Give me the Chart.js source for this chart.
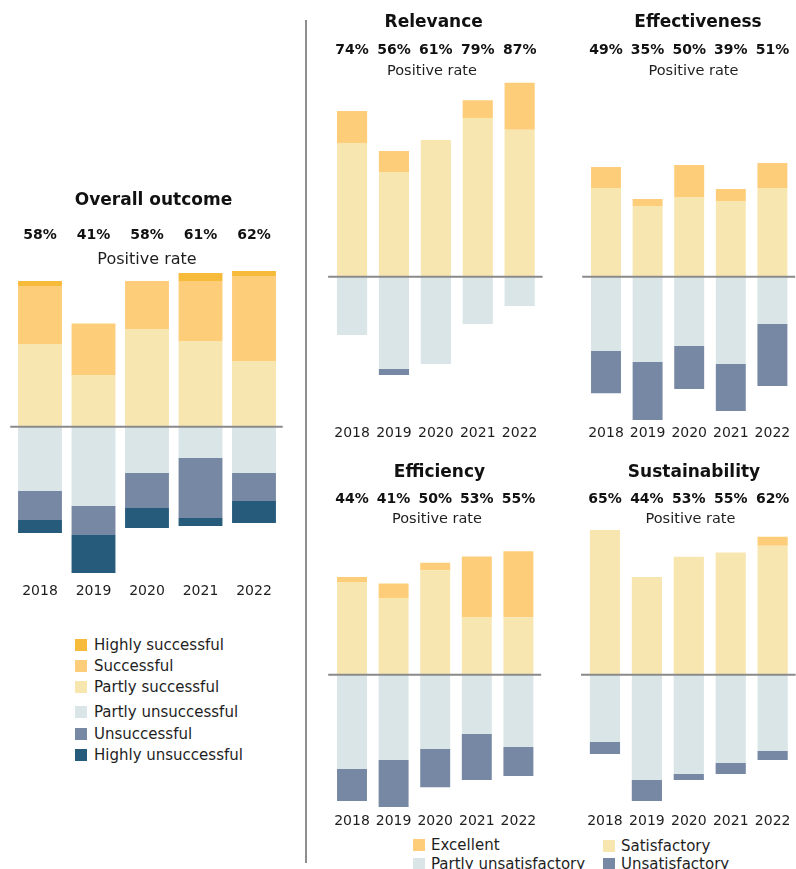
<!DOCTYPE html>
<html>
<head>
<meta charset="utf-8">
<title>Evaluation ratings 2018-2022</title>
<style>
  body { margin: 0; background: #fff; font-family: "DejaVu Sans", sans-serif; color: #1e1e1e; }
  #page { position: relative; width: 796px; height: 869px; overflow: hidden; }
  canvas { position: absolute; }
  .divider { position: absolute; left: 305px; top: 20px; width: 2px; height: 843px; background: #8e8e8e; }
  .item { position: absolute; font-size: 15px; white-space: nowrap; line-height: 18px; }
  .item span { position: absolute; left: 0; top: 0; width: 12px; height: 12px; }
</style>
</head>
<body>
<div id="page">
  <div class="divider"></div>
</div>
<script src="https://cdn.jsdelivr.net/npm/chart.js"></script>
<script>
const years = ['2018', '2019', '2020', '2021', '2022'];

// Overall outcome, share of evaluations (%)
const overallHighlySuccessful = [2.0, 0, 0, 3.2, 2.0];
const overallSuccessful = [23.0, 20.5, 19.0, 23.8, 33.7];
const overallPartlySuccessful = [32.8, 20.5, 38.8, 34.0, 26.1];
const overallPartlyUnsuccessful = [25.5, 31.5, 18.4, 12.4, 18.4];
const overallUnsuccessful = [11.5, 11.5, 13.9, 23.8, 11.1];
const overallHighlyUnsuccessful = [5.2, 15.1, 7.9, 3.2, 8.7];

// Criteria ratings (%)
const relevanceExcellent = [14.3, 9.4, 0, 8.0, 21.0];
const relevanceSatisfactory = [59.7, 46.7, 61.0, 70.8, 65.6];
const relevancePartlyUnsat = [26.0, 41.2, 39.0, 21.1, 13.1];
const relevanceUnsat = [0, 2.7, 0, 0, 0];

const effectivenessExcellent = [9.4, 3.1, 14.3, 5.4, 11.2];
const effectivenessSatisfactory = [39.6, 31.6, 35.6, 33.8, 39.6];
const effectivenessPartlyUnsat = [33.2, 38.1, 30.9, 39.0, 21.1];
const effectivenessUnsat = [18.8, 25.9, 19.2, 21.0, 27.7];

const efficiencyExcellent = [2.2, 6.5, 3.4, 27.0, 29.5];
const efficiencySatisfactory = [41.4, 34.2, 46.6, 25.8, 25.6];
const efficiencyPartlyUnsat = [42.1, 38.1, 33.2, 26.5, 32.3];
const efficiencyUnsat = [14.3, 21.0, 17.0, 20.5, 12.9];

const sustainabilityExcellent = [0, 0, 0, 0, 4.0];
const sustainabilitySatisfactory = [64.6, 43.6, 52.7, 54.6, 57.6];
const sustainabilityPartlyUnsat = [30.0, 47.0, 44.3, 39.4, 34.1];
const sustainabilityUnsat = [5.4, 9.4, 2.7, 4.9, 4.0];

const outcomeLabels = ['Highly successful', 'Successful', 'Partly successful',
  'Partly unsuccessful', 'Unsuccessful', 'Highly unsuccessful'];
const outcomeColors = ['#f7bb3c', '#fdcd79', '#f8e6b0', '#d9e5e7', '#7788a4', '#265b7b'];
const ratingLabels = ['Excellent', 'Satisfactory', 'Partly unsatisfactory', 'Unsatisfactory'];
const ratingColors = ['#fdcd79', '#f8e6b0', '#d9e5e7', '#7788a4'];

Chart.defaults.font.family = '"DejaVu Sans", sans-serif';

const page = document.getElementById('page');
const FONT = '"DejaVu Sans", sans-serif';

// zero line, title, positive rates and subtitle
const headerPlugin = {
  id: 'header',
  afterDraw(chart, args, opts) {
    const { ctx, chartArea, scales: { x, y } } = chart;
    ctx.save();
    const y0 = y.getPixelForValue(0);
    ctx.strokeStyle = '#8a8a8a';
    ctx.lineWidth = 2;
    ctx.beginPath();
    ctx.moveTo(chartArea.left - 3, y0);
    ctx.lineTo(chartArea.right + 2, y0);
    ctx.stroke();

    ctx.fillStyle = '#111';
    ctx.textAlign = 'center';
    ctx.textBaseline = 'alphabetic';
    ctx.font = 'bold 17px ' + FONT;
    ctx.fillText(opts.title, opts.titleX, opts.titleY);
    ctx.font = 'bold 14px ' + FONT;
    opts.rates.forEach((r, i) => ctx.fillText(r + '%', x.getPixelForValue(i), opts.rateY));
    ctx.fillStyle = '#1e1e1e';
    ctx.font = opts.subSize + 'px ' + FONT;
    ctx.fillText('Positive rate', opts.subX, opts.subY);
    ctx.restore();
  }
};

function buildPanel(cfg) {
  const canvas = document.createElement('canvas');
  canvas.width = cfg.width;
  canvas.height = cfg.height;
  canvas.style.left = cfg.left + 'px';
  canvas.style.top = cfg.top + 'px';
  page.appendChild(canvas);

  const padTop = cfg.zeroY - cfg.max * cfg.ppu - cfg.top;
  const areaH = (cfg.max - cfg.min) * cfg.ppu;
  const axisH = cfg.height - padTop - areaH;
  const rates = years.map((_, i) =>
    Math.round(cfg.positive.reduce((s, d) => s + d.values[i], 0)));

  const datasets = [
    ...cfg.positive.map(d => ({ label: d.label, data: d.values, backgroundColor: d.color })),
    ...cfg.negative.map(d => ({ label: d.label, data: d.values.map(v => -v), backgroundColor: d.color }))
  ];

  new Chart(canvas, {
    type: 'bar',
    data: { labels: years, datasets: datasets },
    options: {
      responsive: false,
      animation: false,
      devicePixelRatio: 1,
      layout: {
        padding: {
          top: padTop,
          bottom: 0,
          left: cfg.areaLeft - cfg.left,
          right: cfg.left + cfg.width - cfg.areaRight
        }
      },
      datasets: { bar: { categoryPercentage: 1, barPercentage: cfg.barPct, borderWidth: 0 } },
      scales: {
        x: {
          stacked: true,
          grid: { display: false, drawTicks: false },
          border: { display: false },
          ticks: { color: '#1e1e1e', font: { size: 14 }, padding: 3, maxRotation: 0, autoSkip: false },
          afterFit: s => { s.height = axisH; }
        },
        y: { stacked: true, display: false, min: cfg.min, max: cfg.max }
      },
      plugins: {
        legend: { display: false },
        tooltip: { enabled: false },
        header: {
          title: cfg.title,
          rates: rates,
          titleX: cfg.titleX - cfg.left,
          titleY: cfg.titleY - cfg.top,
          rateY: cfg.rateY - cfg.top,
          subX: cfg.subX - cfg.left,
          subY: cfg.subY - cfg.top,
          subSize: cfg.subSize
        }
      }
    },
    plugins: [headerPlugin]
  });
}

function ratingSeries(exc, sat, pu, u) {
  return {
    positive: [
      { label: ratingLabels[1], values: sat, color: ratingColors[1] },
      { label: ratingLabels[0], values: exc, color: ratingColors[0] }
    ],
    negative: [
      { label: ratingLabels[2], values: pu, color: ratingColors[2] },
      { label: ratingLabels[3], values: u, color: ratingColors[3] }
    ]
  };
}

buildPanel({
  title: 'Overall outcome',
  left: 0, top: 170, width: 296, height: 450,
  areaLeft: 13.25, areaRight: 280.75,
  zeroY: 426.7, ppu: 2.52, max: 66, min: -61, barPct: 0.82,
  titleX: 153.5, titleY: 205, rateY: 239, subX: 147, subY: 264, subSize: 16,
  positive: [
    { label: outcomeLabels[2], values: overallPartlySuccessful, color: outcomeColors[2] },
    { label: outcomeLabels[1], values: overallSuccessful, color: outcomeColors[1] },
    { label: outcomeLabels[0], values: overallHighlySuccessful, color: outcomeColors[0] }
  ],
  negative: [
    { label: outcomeLabels[3], values: overallPartlyUnsuccessful, color: outcomeColors[3] },
    { label: outcomeLabels[4], values: overallUnsuccessful, color: outcomeColors[4] },
    { label: outcomeLabels[5], values: overallHighlyUnsuccessful, color: outcomeColors[5] }
  ]
});

const topRow = { top: 0, height: 450, zeroY: 276.7, ppu: 2.24, max: 92, min: -65, barPct: 0.72,
  titleY: 27.3, rateY: 54.3, subY: 75, subSize: 14.5 };
const bottomRow = { top: 450, height: 385, zeroY: 674.7, ppu: 2.24, max: 68, min: -60.5, barPct: 0.72,
  titleY: 476.7, rateY: 503.3, subY: 523.3, subSize: 14.5 };

buildPanel(Object.assign({}, topRow, {
  title: 'Relevance', left: 318, width: 230, areaLeft: 331.1, areaRight: 540.6,
  titleX: 433.7, subX: 432
}, ratingSeries(relevanceExcellent, relevanceSatisfactory, relevancePartlyUnsat, relevanceUnsat)));

buildPanel(Object.assign({}, topRow, {
  title: 'Effectiveness', left: 566, width: 230, areaLeft: 585.2, areaRight: 793.2,
  titleX: 698, subX: 693.5
}, ratingSeries(effectivenessExcellent, effectivenessSatisfactory, effectivenessPartlyUnsat, effectivenessUnsat)));

buildPanel(Object.assign({}, bottomRow, {
  title: 'Efficiency', left: 318, width: 230, areaLeft: 331.2, areaRight: 539.2,
  titleX: 439.5, subX: 437
}, ratingSeries(efficiencyExcellent, efficiencySatisfactory, efficiencyPartlyUnsat, efficiencyUnsat)));

buildPanel(Object.assign({}, bottomRow, {
  title: 'Sustainability', left: 566, width: 230, areaLeft: 584, areaRight: 793.6,
  titleX: 694, subX: 690.5
}, ratingSeries(sustainabilityExcellent, sustainabilitySatisfactory, sustainabilityPartlyUnsat, sustainabilityUnsat)));

// legends
function legendItem(x, y, color, label, textOffset) {
  const el = document.createElement('div');
  el.className = 'item';
  el.style.left = x + 'px';
  el.style.top = y + 'px';
  el.style.paddingLeft = textOffset + 'px';
  el.style.marginTop = '-3px';
  el.innerHTML = '<span style="background:' + color + ';top:3px"></span>' + label;
  page.appendChild(el);
}

const outcomeLegendTops = [639, 659.5, 681, 706, 727.7, 749.3];
outcomeLabels.forEach((label, i) => legendItem(75, outcomeLegendTops[i], outcomeColors[i], label, 19));

const ratingLegendPos = [[413, 839], [603, 840], [413, 857.5], [603, 857.5]];
ratingLabels.forEach((label, i) =>
  legendItem(ratingLegendPos[i][0], ratingLegendPos[i][1], ratingColors[i], label, 18));
</script>
</body>
</html>
